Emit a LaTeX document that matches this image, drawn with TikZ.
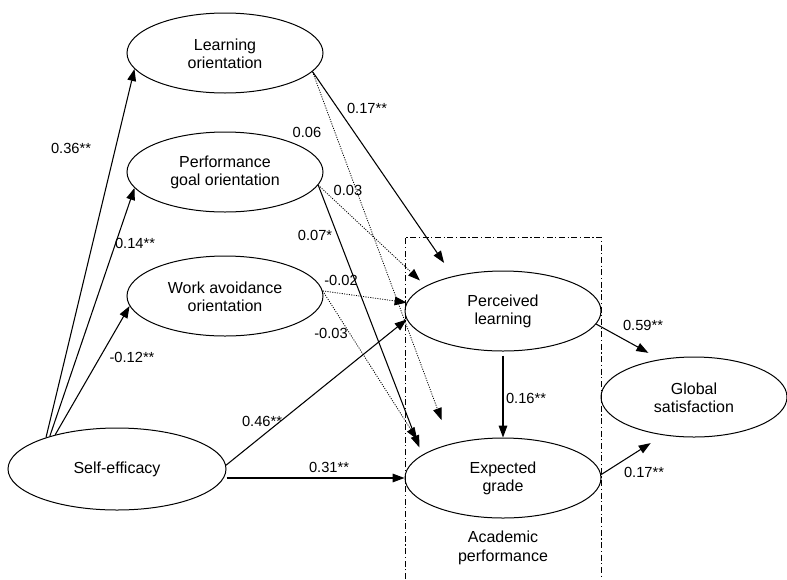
\documentclass[tikz,border=0pt]{standalone}
\usepackage{fontspec}
\setmainfont{Liberation Sans}
\usetikzlibrary{shapes.geometric,arrows.meta}

\begin{document}
\begin{tikzpicture}[x=0.75pt,y=-0.75pt,
  latent/.style={draw,ellipse,line width=0.75pt,inner sep=0pt,align=center,
    minimum width=147pt,minimum height=60pt,font=\fontsize{12}{13.5}\selectfont},
  path/.style={-{Triangle[length=9pt,width=6.5pt]},line width=0.8pt},
  weak/.style={path,densely dotted,line width=0.6pt},
  coef/.style={font=\fontsize{11}{13}\selectfont,inner sep=1pt},
  group/.style={line width=0.7pt,dash pattern=on 4.5pt off 2pt on 0.8pt off 2pt}]
\useasboundingbox (0,0) rectangle (787,579);
%latent variables
\node[latent] (lo) at (225,53) {\strut Learning\\orientation};
\node[latent] (pg) at (225,172) {\strut Performance\\goal orientation};
\node[latent] (wa) at (225,296) {\strut Work avoidance\\orientation};
\node[latent,minimum width=163.5pt,minimum height=61.5pt] (se) at (117,469) {Self-efficacy};
\node[latent] (pl) at (503,311) {\strut Perceived\\learning};
\node[latent] (eg) at (503,478) {\strut Expected\\grade};
\node[latent,minimum width=139.5pt] (gs) at (694,397) {\strut Global\\satisfaction};
%academic performance box
\draw[group] (405,579) |- (601,237) -- (601,579);
\node[align=center,font=\fontsize{12}{14}\selectfont] (ap) at (503,548) {Academic\\performance};
%paths from self-efficacy
\draw[path] (se.156) -- (lo.190);
\draw[path] (se.154) -- (pg.190);
\draw[path] (se.151) -- (wa.186);
\draw[path] (se.2) -- (pl.185);
\draw[path] (se.east |- eg.west) -- (eg.west);
%paths from goal orientations
\draw[path,shorten >=12pt] (lo.348) -- (pl.145);
\draw[weak,shorten >=19pt] (lo.348) -- (eg.147);
\draw[weak,shorten >=6pt] (pg.352) -- (pl.162);
\draw[path,shorten >=6pt] (pg.352) -- (eg.164);
\draw[weak] (wa.3) -- (pl.175);
\draw[weak,shorten >=12pt] (wa.3) -- (eg.162);
%paths to outcomes
\draw[path,shorten <=3pt] (pl.south) -- (eg.north);
\draw[path,shorten >=10pt] (pl.352) -- (gs.132);
\draw[path,shorten >=11pt] (eg.2) -- (gs.231);
%coefficients
\node[coef] (c1) at (71,148) {0.36**};
\node[coef] (c2) at (135,243) {0.14**};
\node[coef] (c3) at (132,357) {-0.12**};
\node[coef] (c4) at (367,108) {0.17**};
\node[coef] (c5) at (307,132) {0.06};
\node[coef] (c6) at (348,190) {0.03};
\node[coef] (c7) at (315,235) {0.07*};
\node[coef] (c8) at (341,280) {-0.02};
\node[coef] (c9) at (331,333) {-0.03};
\node[coef] (c10) at (262,421) {0.46**};
\node[coef] (c11) at (329,467) {0.31**};
\node[coef] (c12) at (526,398) {0.16**};
\node[coef] (c13) at (643,325) {0.59**};
\node[coef] (c14) at (644,472) {0.17**};
\end{tikzpicture}
\end{document}
